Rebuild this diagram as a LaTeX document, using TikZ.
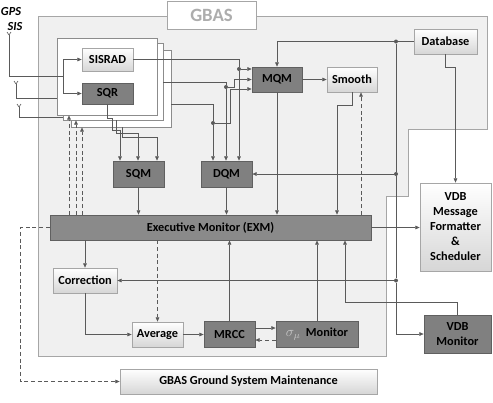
\documentclass[tikz,border=0pt]{standalone}
\usepackage{fontspec}
\setmainfont{Carlito}
\usetikzlibrary{arrows.meta}
\definecolor{wirecol}{HTML}{5A5A5A}
\definecolor{darkfill}{HTML}{808080}
\definecolor{darkedge}{HTML}{606060}
\definecolor{lightedge}{HTML}{A6A6A6}
\tikzset{
  box/.style={draw=lightedge, line width=0.6pt, inner sep=0pt, align=center,
    font=\bfseries\fontsize{10.5}{12.8}\selectfont},
  lightbox/.style={box, top color=white, bottom color=black!16},
  darkbox/.style={box, draw=darkedge, fill=darkfill},
  stackbox/.style={draw=black!45, fill=white, line width=0.6pt, inner sep=0pt,
    minimum width=30mm, minimum height=23.1mm},
  wire/.style={draw=wirecol, line width=0.55pt},
  arr/.style={wire, -{Triangle[length=1.3mm,width=1.1mm]}},
  darr/.style={arr, dash pattern=on 1.2mm off 0.8mm},
  jn/.style={circle, fill=wirecol, inner sep=0pt, minimum size=1.2mm},
  sislabel/.style={font=\bfseries\itshape\fontsize{10.5}{12}\selectfont, inner sep=0pt},
}
\begin{document}
\begin{tikzpicture}[x=0.3mm, y=-0.3mm]
  \useasboundingbox (0,0) rectangle (493,402);
  % GBAS region
  \filldraw[draw=lightedge, fill=black!6, line width=0.6pt]
    (38,16) -- (487,16) -- (487,129) -- (408,129) -- (408,196)
    -- (386,196) -- (386,356) -- (38,356) -- cycle;
  \node[box, fill=white, minimum width=26.7mm, minimum height=8.4mm,
    text=black!32, font=\bfseries\fontsize{16}{19}\selectfont] (gbas) at (211.5,15) {GBAS};

  % receivers
  \node[stackbox] (rx3) at (121,88.5) {};
  \node[stackbox] (rx2) at (113,81.5) {};
  \node[stackbox] (rx1) at (107,76.5) {};
  \node[lightbox, minimum width=15.3mm, minimum height=6.9mm] (sisrad) at (107.5,59.5) {SISRAD};
  \node[darkbox, minimum width=15.3mm, minimum height=6.3mm] (sqr) at (107.5,93.5) {SQR};

  \node[darkbox, minimum width=15.3mm, minimum height=7.8mm] (sqm) at (138.5,174) {SQM};
  \node[darkbox, minimum width=15.3mm, minimum height=7.8mm] (dqm) at (226.5,174) {DQM};
  \node[darkbox, minimum width=15mm, minimum height=7.5mm] (mqm) at (277,79.5) {MQM};
  \node[lightbox, minimum width=15mm, minimum height=7.5mm] (smooth) at (352,79.5) {Smooth};
  \node[lightbox, minimum width=18.9mm, minimum height=7.5mm] (database) at (445.5,41.5) {Database};
  \node[box, draw=darkedge, fill=black!46, minimum width=96.3mm, minimum height=7.5mm] (exm) at (210.5,227.5) {Executive Monitor (EXM)};
  \node[lightbox, minimum width=19.2mm, minimum height=7.5mm] (correction) at (85,280.5) {Correction};
  \node[lightbox, minimum width=15.3mm, minimum height=7.5mm] (average) at (157.5,334.5) {Average};
  \node[darkbox, minimum width=15.3mm, minimum height=7.8mm] (mrcc) at (229.5,334) {MRCC};
  \node[darkbox, minimum width=24.6mm, minimum height=7.8mm] (sigmon) at (317,334)
    {{\mdseries\color{black!22}\large$\sigma_\mu$}\ \ Monitor};
  \node[lightbox, minimum width=21.3mm, minimum height=26.4mm] (vdbfmt) at (455.5,227)
    {VDB\\Message\\Formatter\\\&\\Scheduler};
  \node[darkbox, minimum width=20.1mm, minimum height=11.4mm] (vdbmon) at (457.5,334) {VDB\\Monitor};
  \node[lightbox, minimum width=77.1mm, minimum height=7.5mm] (maint) at (248.5,381.5)
    {GBAS Ground System Maintenance};

  % antennas
  \node[sislabel] (gps) at (11,12) {GPS};
  \node[sislabel] (sis) at (15,27) {SIS};
  \coordinate (ant1) at (9,35);
  \coordinate (ant2) at (16,84);
  \coordinate (ant3) at (19,107);
  \foreach \a in {ant1,ant2,ant3}
    \draw[wire] (\a) -- ++(-2,-3) (\a) -- ++(2,-3);
  \coordinate (split) at (63,76);
  \draw[wire] (ant1) |- (split);
  \draw[arr] (split) |- (sisrad.west);
  \draw[arr] (split) |- (sqr.west);
  \draw[wire] (ant2) |- (rx1.west |- 0,98);
  \draw[wire] (ant3) |- (rx2.west |- 0,117);

  % receivers to MQM / DQM
  \node[jn] (ja) at (239,69) {};
  \node[jn] (jb) at (226,87) {};
  \node[jn] (jc) at (213,123) {};
  \draw[wire] (sisrad.east) -| (ja);
  \draw[arr] (ja) -- (mqm.west |- ja);
  \draw[arr] (ja) -- (dqm.north -| ja);
  \draw[wire] (rx2.east |- 0,82) -| (jb);
  \draw[arr] (jb) -- ++(8,0) |- (mqm.west);
  \draw[arr] (jb) -- (dqm.north -| jb);
  \draw[wire] (rx3.east |- 0,104) -| (jc);
  \draw[arr] (jc) -- ++(17,0) |- (mqm.west |- 0,89);
  \draw[arr] (jc) -- (dqm.north -| jc);

  % receivers to SQM
  \draw[arr] (sqr.south) -- ++(0,14) -- ++(5,0) -- ++(0,12) -| (sqm.north -| 120,0);
  \draw[arr] (rx2.south -| 116,0) -- ++(0,13) -| (sqm.north -| 138,0);
  \draw[arr] (rx3.south -| 122,0) -- ++(0,10) -| (sqm.north -| 157,0);

  % EXM back to receivers
  \draw[darr] (exm.north -| 69,0) -- (rx1.south -| 69,0);
  \draw[darr] (exm.north -| 76,0) -- (rx2.south -| 76,0);
  \draw[darr] (exm.north -| 82,0) -- (rx3.south -| 82,0);

  % database
  \node[jn] (jd1) at (396,41.5) {};
  \node[jn] (jd2) at (396,174) {};
  \node[jn] (jd3) at (396,280.5) {};
  \draw[wire] (database.west) -- (jd1);
  \draw[arr] (jd1) -| (mqm.north);
  \draw[wire] (jd1) -- (jd2) -- (jd3);
  \draw[arr] (jd2) -- (dqm.east);
  \draw[arr] (jd3) -- (correction.east);
  \draw[arr] (jd3) |- (vdbmon.west);
  \draw[arr] (database.south) -- ++(0,13) -| (vdbfmt.north);

  % monitors to EXM
  \draw[arr] (mqm) -- (smooth);
  \draw[arr] (smooth.south) -- ++(0,13) -| (exm.north -| 337,0);
  \draw[darr] (exm.north -| 361,0) -- (smooth.south -| 361,0);
  \draw[arr] (mqm.south) -- (exm.north -| mqm.south);
  \draw[arr] (dqm) -- (exm.north -| dqm);
  \draw[arr] (sqm) -- (exm.north -| sqm);
  \draw[arr] (exm.east) -- (vdbfmt.west |- exm.east);

  % below EXM
  \draw[arr] (exm.south -| correction) -- (correction);
  \draw[darr] (exm.south -| average) -- (average);
  \draw[darr] (exm.west) -- ++(-29,0) |- (maint.west);
  \draw[arr] (correction.south) |- (average.west);
  \draw[arr] (average.east) -- (mrcc.west |- average.east);
  \draw[arr] (mrcc) -- (exm.south -| mrcc);
  \draw[arr] (mrcc.east |- 0,328) -- (sigmon.west |- 0,328);
  \draw[darr] (sigmon.west |- 0,340) -- (mrcc.east |- 0,340);
  \draw[arr] (sigmon) -- (exm.south -| sigmon);
  \draw[arr] (vdbmon.north) -- ++(0,-12) -| (exm.south -| 345,0);
\end{tikzpicture}
\end{document}
